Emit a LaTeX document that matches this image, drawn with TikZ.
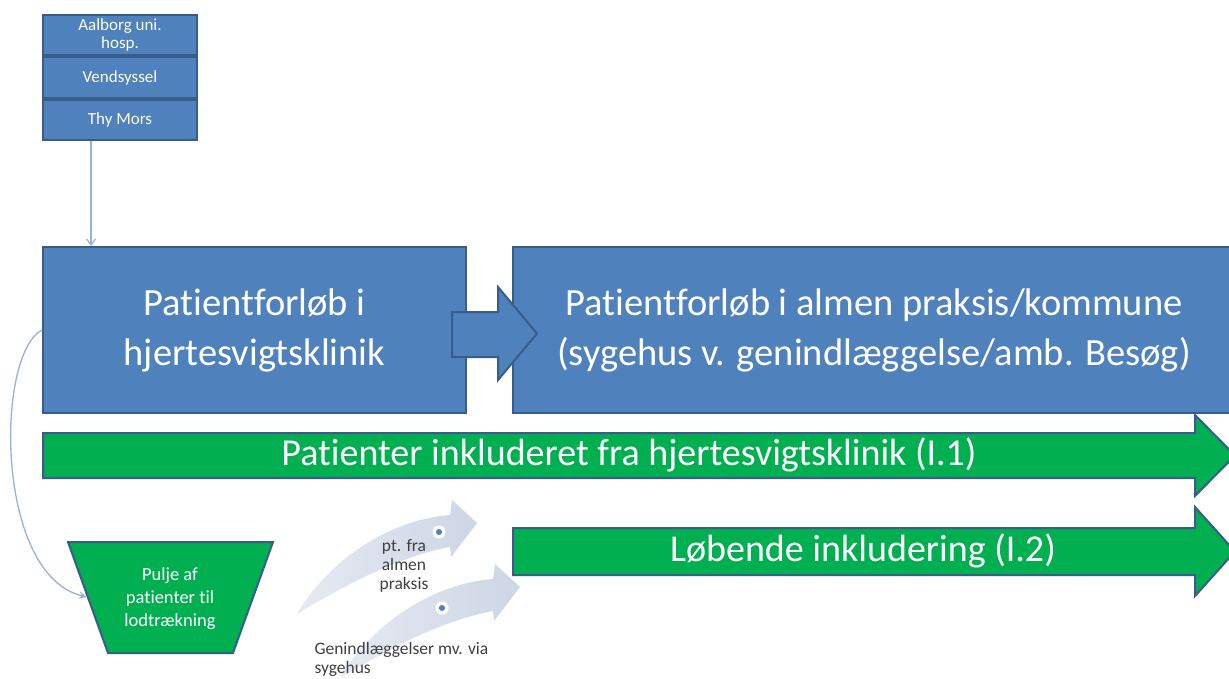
\documentclass[tikz,border=0pt]{standalone}
\usepackage{fontspec}
\setmainfont{Carlito}[Ligatures=NoCommon]
\usetikzlibrary{arrows.meta,calc}
\definecolor{boxblue}{HTML}{4F81BD}
\definecolor{edgeblue}{HTML}{385D8A}
\definecolor{grn}{HTML}{00B050}
\definecolor{lineblue}{HTML}{95B3D7}
\definecolor{arrowgray}{HTML}{CDD6E6}
\definecolor{arrowlight}{HTML}{E6EAF2}
\definecolor{txtgray}{HTML}{404040}
\tikzset{
 stackbox/.style={draw=edgeblue, fill=boxblue, line width=2pt, minimum width=154, minimum height=40, inner sep=0pt, text=white, align=center, font=\fontsize{17}{18}\selectfont},
 bigbox/.style={draw=edgeblue, fill=boxblue, line width=2pt, inner sep=0pt, text=white, align=center, font=\fontsize{38.5}{50}\selectfont},
 blockarrow/.style={draw=edgeblue, line width=2pt},
 greentext/.style={text=white, font=\fontsize{38}{40}\selectfont},
 conn/.style={draw=lineblue, line width=1.3pt},
 smalltext/.style={text=txtgray, font=\fontsize{17.5}{19}\selectfont, align=center},
 grayarrow/.style={left color=arrowlight, right color=arrowgray},
 dotring/.style={circle, fill=white, inner sep=0pt, minimum size=13},
 dotcore/.style={circle, fill=boxblue, inner sep=0pt, minimum size=6},
}
\begin{document}
\begin{tikzpicture}[x=1pt,y=-1pt]
\useasboundingbox (0,0) rectangle (1229,679);
\clip (0,0) rectangle (1229,679);
\fill[white] (0,0) rectangle (1229,679);

% top stack
\node[stackbox] (s1) at (120,35) {Aalborg uni.\\hosp.};
\node[stackbox, minimum height=41] (s2) at (120,77.5) {Vendsyssel};
\node[stackbox] (s3) at (120,120) {Thy Mors};

% big boxes
\node[bigbox, minimum width=423, minimum height=166] (b1) at (254.5,330) {Patientforløb i\\hjertesvigtsklinik};
\node[bigbox, minimum width=722, minimum height=166] (b2) at (874,330) {Patientforløb i almen praksis/kommune\\(sygehus v. genindlæggelse/amb. Besøg)};

% connector stack -> box1
\coordinate (vx) at (91,0);
\draw[conn,-{Straight Barb[length=6pt,width=9pt]}] (s3.south -| vx) -- (b1.north -| vx);

% block arrow between boxes
\draw[blockarrow, fill=boxblue] (452,312) -- (498,312) -- (498,287) -- (537,333.5) -- (498,380) -- (498,357) -- (452,357) -- cycle;

% curved gray arrows
\shade[grayarrow] (297,614) .. controls (325,565) and (385,520) .. (450,515) -- (452,500) -- (477,523) -- (451,557) -- (450,547) .. controls (400,556) and (345,585) .. (297,614) -- cycle;
\begin{scope}[shift={(43,64)}]
\shade[grayarrow] (297,614) .. controls (325,565) and (385,520) .. (450,515) -- (452,500) -- (477,523) -- (451,557) -- (450,547) .. controls (400,556) and (345,585) .. (297,614) -- cycle;
\end{scope}
\node[dotring] (d1) at (439,532) {};
\node[dotcore] (d1c) at (d1) {};
\node[dotring] (d2) at (442,608) {};
\node[dotcore] (d2c) at (d2) {};
\node[smalltext] (t1) at (404,566) {pt. fra\\almen\\praksis};
\node[smalltext, align=left, anchor=west] (t2) at (311,659) {Genindlæggelser mv. via\\sygehus};

% green arrows
\draw[blockarrow, fill=grn] (43,433) -- (1195,433) -- (1195,415) -- (1235,455.5) -- (1195,496) -- (1195,478) -- (43,478) -- cycle;
\node[greentext] (g1) at (629,455) {Patienter inkluderet fra hjertesvigtsklinik (I.1)};
\draw[blockarrow, fill=grn] (513,528) -- (1195,528) -- (1195,507) -- (1235,551.5) -- (1195,596) -- (1195,575) -- (513,575) -- cycle;
\node[greentext] (g2) at (863,551) {Løbende inkludering (I.2)};

% funnel
\draw[blockarrow, fill=grn] (68,542) -- (273,542) -- (233,653) -- (108,653) -- cycle;
\node[text=white, align=center, font=\fontsize{18.5}{23}\selectfont] (pool) at (170,599) {Pulje af\\patienter til\\lodtrækning};
\coordinate (poolin) at (87,597);

% curved connector box1 -> funnel
\draw[conn, -{Stealth[length=8pt,width=7pt]}] (b1.west) .. controls (-5,355) and (-5,575) .. (poolin);
\end{tikzpicture}
\end{document}
